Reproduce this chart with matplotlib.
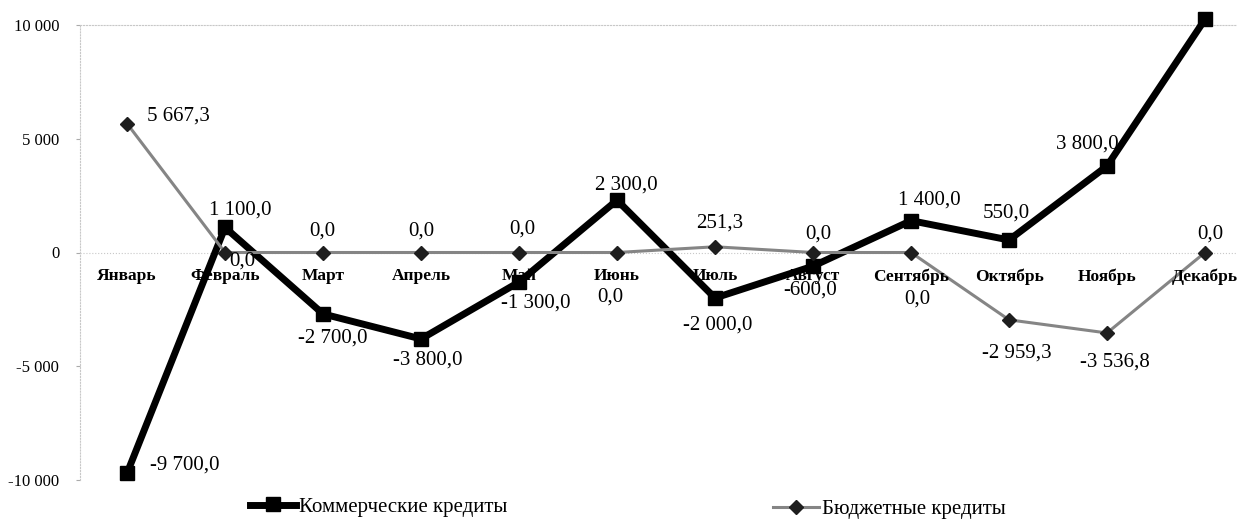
import matplotlib
matplotlib.use('Agg')
import matplotlib.pyplot as plt
from matplotlib.lines import Line2D

# Data
months = ['Январь', 'Февраль', 'Март', 'Апрель', 'Май', 'Июнь',
          'Июль', 'Август', 'Сентябрь', 'Октябрь', 'Ноябрь', 'Декабрь']
commercial = [-9700.0, 1100.0, -2700.0, -3800.0, -1300.0, 2300.0,
              -2000.0, -600.0, 1400.0, 550.0, 3800.0, 10249.9]
budget = [5667.3, 0.0, 0.0, 0.0, 0.0, 0.0,
          251.3, 0.0, 0.0, -2959.3, -3536.8, 0.0]
yticks = [-10000, -5000, 0, 5000, 10000]

# label offsets in pixels (dx, dy), with alignment
com_offsets = [(23, 8, 'left'), (15, 17, 'center'), (10, -24, 'center'),
               (7, -21, 'center'), (17, -21, 'center'), (9, 15, 'center'),
               (3, -27, 'center'), (-3, -24, 'center'), (18, 21, 'center'),
               (-3, 27, 'center'), (-20, 22, 'center'), (-15, -5, 'right')]
bud_offsets = [(20, 8, 'left'), (17, -9, 'center'), (-1, 21, 'center'),
               (0, 21, 'center'), (3, 23, 'center'), (-7, -45, 'center'),
               (5, 24, 'center'), (5, 18, 'center'), (6, -47, 'center'),
               (8, -33, 'center'), (8, -29, 'center'), (5, 18, 'center')]

serif = 'Liberation Serif'


def fmt(v):
    s = f'{abs(v):,.1f}'.replace(',', ' ').replace('.', ',')
    return ('-' if v < 0 else '') + s


fig = plt.figure(figsize=(12.37, 5.19), dpi=100)
W, H = 1237, 519
ax = fig.add_axes([80 / W, 1 - 480 / H, (W - 80) / W, (480 - 25) / H])

x = list(range(len(months)))
ax.plot(x, commercial, color='black', lw=5, marker='s', markersize=10,
        zorder=3, clip_on=False)
ax.plot(x, budget, color='#858585', lw=2.2, marker='D', markersize=7,
        markerfacecolor='#1e1e1e', markeredgecolor='#1e1e1e',
        zorder=4, clip_on=False)

ax.set_xlim(-0.48, (W - 127) / 98)
ax.set_ylim(-10000, 10000)
ax.set_yticks(yticks)
ax.set_yticklabels([f'{t:,}'.replace(',', ' ') for t in yticks],
                   family=serif, fontsize=12)
ax.set_xticks([])
ax.tick_params(axis='y', length=3, color='#aaaaaa', pad=12)

for side in ['right', 'bottom']:
    ax.spines[side].set_visible(False)
for side in ['left', 'top']:
    ax.spines[side].set_linestyle(':')
    ax.spines[side].set_color('#c8c8c8')
    ax.spines[side].set_linewidth(0.8)
ax.axhline(0, color='#c8c8c8', lw=0.8, ls=':', zorder=1)

# month names along the zero line
for i, m in enumerate(months):
    ax.annotate(m, (i, 0), xytext=(0, -24), textcoords='offset pixels',
                ha='center', va='center', family=serif, fontweight='bold',
                fontsize=12.5, zorder=5)

# data labels
for i, v in enumerate(commercial):
    dx, dy, ha = com_offsets[i]
    ax.annotate(fmt(v), (i, v), xytext=(dx, dy), textcoords='offset pixels',
                ha=ha, va='center', family=serif, fontsize=15, zorder=6)
for i, v in enumerate(budget):
    dx, dy, ha = bud_offsets[i]
    ax.annotate(fmt(v), (i, v), xytext=(dx, dy), textcoords='offset pixels',
                ha=ha, va='center', family=serif, fontsize=15, zorder=6)

# legend, two separate entries at the bottom
h1 = Line2D([], [], color='black', lw=5, marker='s', markersize=10)
h2 = Line2D([], [], color='#858585', lw=2.2, marker='D', markersize=7,
            markerfacecolor='#1e1e1e', markeredgecolor='#1e1e1e')
leg_kw = dict(frameon=False, borderpad=0, handlelength=2.2, handletextpad=0.15,
              loc='center left', prop={'family': serif, 'size': 15})
fig.legend([h1], ['Коммерческие кредиты'], bbox_to_anchor=(240 / W, 1 - 507 / H), **leg_kw)
fig.legend([h2], ['Бюджетные кредиты'], bbox_to_anchor=(763 / W, 1 - 509 / H), **leg_kw)

fig.savefig('out.png', dpi=100)
